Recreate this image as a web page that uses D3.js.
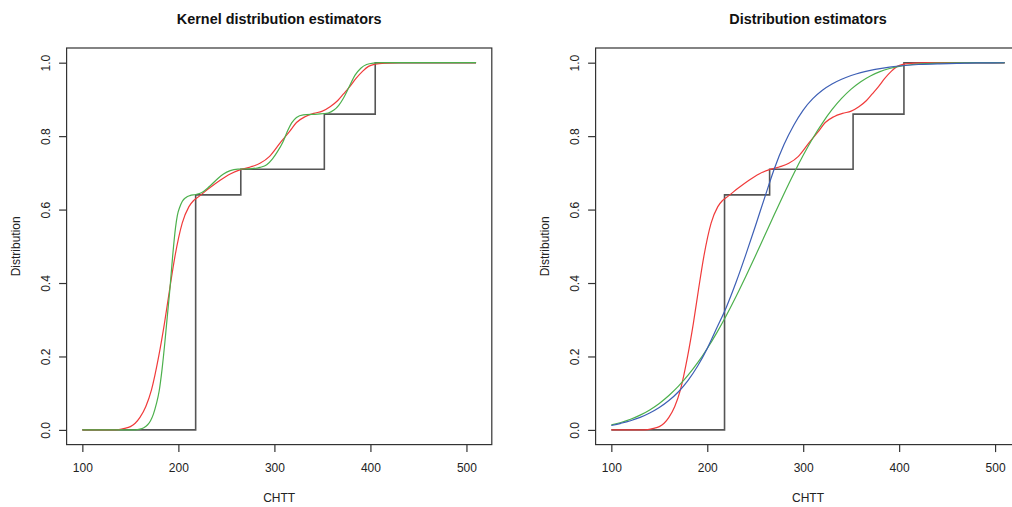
<!DOCTYPE html>
<html>
<head>
<meta charset="utf-8">
<script src="https://cdn.jsdelivr.net/npm/d3@7"></script>
<style>
  html, body { margin: 0; padding: 0; background: #fff; }
  svg { display: block; font-family: "Liberation Sans", Arial, Helvetica, sans-serif; }
</style>
</head>
<body>
<svg id="chart" width="1012" height="507"></svg>
<script>
// ---- data ----
const xTicks = [100, 200, 300, 400, 500];
const yTicks = [0, 0.2, 0.4, 0.6, 0.8, 1.0];
const xLimits = [100, 510];
const yLimits = [0, 1];

// empirical distribution function (step points)
const ecdfX = [100, 218, 265, 352, 405, 510];
const ecdfY = [0, 0.64, 0.71, 0.86, 1.0, 1.0];

// kernel estimator, larger bandwidth (red) - used in both panels
const redCurve = [[100,0],[130,0],[138,0.001],[144,0.004],[150,0.009],[155,0.018],[160,0.034],[166,0.063],[172,0.109],[179.5,0.2],[185.5,0.29],[190.8,0.381],[196.4,0.472],[204,0.563],[211,0.608],[216,0.625],[222.5,0.638],[232,0.658],[243.5,0.68],[254,0.697],[264,0.708],[275,0.716],[285,0.726],[295,0.745],[307,0.785],[315,0.81],[323,0.837],[332,0.853],[341,0.862],[350,0.868],[358,0.880],[366,0.897],[372,0.915],[378.5,0.935],[385,0.957],[392,0.977],[398,0.99],[405,0.996],[415,0.999],[430,1],[510,1]];

// kernel estimator, smaller bandwidth (green, left panel)
const greenKernel = [[100,0],[155,0],[160,0.002],[164,0.006],[168,0.014],[171,0.025],[174,0.043],[177,0.070],[180,0.106],[183,0.165],[186,0.24],[188.5,0.31],[191.1,0.381],[194,0.472],[197,0.55],[199,0.585],[201.5,0.607],[204,0.622],[208,0.633],[212,0.638],[218,0.641],[224,0.646],[232,0.662],[240,0.682],[247,0.697],[254,0.706],[262,0.71],[275,0.711],[285,0.715],[292,0.722],[298,0.738],[303,0.757],[309,0.785],[314,0.816],[318,0.836],[323,0.851],[330,0.858],[345,0.86],[356,0.863],[362,0.871],[367,0.884],[372,0.904],[378,0.935],[384,0.966],[390,0.985],[396,0.995],[403,0.999],[410,1],[510,1]];

// parametric fits (right panel)
const fitX = [100,110,120,130,140,150,160,170,180,190,200,210,220,230,240,250,260,270,280,290,300,310,320,330,340,350,360,370,380,390,400,420,440,460,480,510];
const greenFitY = [0.0136,0.0202,0.0289,0.0402,0.0545,0.0722,0.0936,0.119,0.1489,0.1831,0.2218,0.265,0.3122,0.3631,0.4169,0.4729,0.53,0.5871,0.6433,0.6971,0.7477,0.7942,0.8356,0.8719,0.9026,0.928,0.9483,0.964,0.9757,0.9841,0.9901,0.9965,0.999,0.9998,0.99995,1.0];
const blueFitY = [0.012,0.018,0.025,0.034,0.046,0.061,0.080,0.104,0.135,0.174,0.222,0.278,0.335,0.402,0.476,0.554,0.634,0.712,0.777,0.829,0.871,0.902,0.925,0.942,0.955,0.965,0.973,0.979,0.984,0.988,0.991,0.995,0.997,0.998,0.9993,0.9998];

const colRed = "#f03a3a", colGreen = "#4cb04c", colBlue = "#3d5fb5";

// ---- drawing ----
const svg = d3.select("#chart");
const fontColor = "#222";

function panel(opts) {
  const pad = (xLimits[1] - xLimits[0]) * 0.04;
  const ypad = (yLimits[1] - yLimits[0]) * 0.04;
  const x = d3.scaleLinear().domain([xLimits[0] - pad, xLimits[1] + pad]).range([opts.left, opts.right]);
  const y = d3.scaleLinear().domain([yLimits[0] - ypad, yLimits[1] + ypad]).range([444.6, 48]);
  const g = svg.append("g");

  // ECDF
  const ecdfPts = ecdfX.map((v, i) => [v, ecdfY[i]]);
  const line = d3.line().x(d => x(d[0])).y(d => y(d[1]));
  g.append("path").datum(ecdfPts)
    .attr("d", line.curve(d3.curveStepAfter))
    .attr("fill", "none").attr("stroke", "#555").attr("stroke-width", 1.6);

  const smooth = d3.line().x(d => x(d[0])).y(d => y(d[1])).curve(d3.curveMonotoneX);
  opts.curves.forEach(c => {
    g.append("path").datum(c.data).attr("d", smooth)
      .attr("fill", "none").attr("stroke", c.color).attr("stroke-width", 1.2);
  });

  // box
  g.append("rect")
    .attr("x", opts.left).attr("y", 48)
    .attr("width", opts.right - opts.left).attr("height", 444.6 - 48)
    .attr("fill", "none").attr("stroke", "#333").attr("stroke-width", 1.2);

  // x axis
  const xa = g.append("g").attr("transform", `translate(0,444.6)`)
    .call(d3.axisBottom(x).tickValues(xTicks).tickSize(7.5).tickPadding(0).tickFormat(d3.format("d")));
  xa.select(".domain").remove();
  xa.selectAll("line").attr("stroke", "#333").attr("stroke-width", 1.2);
  xa.selectAll("text").attr("y", 27.5).attr("dy", 0)
    .attr("font-size", 12).attr("fill", fontColor).attr("font-family", "Liberation Sans, Arial, sans-serif");

  // y axis
  const ya = g.append("g").attr("transform", `translate(${opts.left},0)`)
    .call(d3.axisLeft(y).tickValues(yTicks).tickSize(7.5).tickFormat(d3.format(".1f")));
  ya.select(".domain").remove();
  ya.selectAll("line").attr("stroke", "#333").attr("stroke-width", 1.2);
  ya.selectAll("text")
    .attr("transform", "rotate(-90)")
    .attr("x", 0).attr("y", -16.8).attr("dy", 0)
    .attr("text-anchor", "middle")
    .attr("font-size", 12).attr("fill", fontColor).attr("font-family", "Liberation Sans, Arial, sans-serif");

  const boxCenter = (opts.left + opts.right) / 2;
  // title
  svg.append("text").attr("x", boxCenter).attr("y", 24.2)
    .attr("text-anchor", "middle").attr("font-weight", "bold").attr("font-size", 14.4)
    .attr("fill", "#111").text(opts.title);
  // x label
  svg.append("text").attr("x", boxCenter).attr("y", 501.5)
    .attr("text-anchor", "middle").attr("font-size", 12).attr("fill", fontColor).text("CHTT");
  // y label
  svg.append("text")
    .attr("transform", `translate(${opts.left - 46.8},${(48 + 444.6) / 2}) rotate(-90)`)
    .attr("text-anchor", "middle").attr("font-size", 12).attr("fill", fontColor).text("Distribution");
}

const greenFit = fitX.map((v, i) => [v, greenFitY[i]]);
const blueFit = fitX.map((v, i) => [v, blueFitY[i]]);

panel({
  left: 66.6, right: 491.8,
  title: "Kernel distribution estimators",
  curves: [
    { data: redCurve, color: colRed },
    { data: greenKernel, color: colGreen }
  ]
});

panel({
  left: 595.6, right: 1020.4,
  title: "Distribution estimators",
  curves: [
    { data: redCurve, color: colRed },
    { data: greenFit, color: colGreen },
    { data: blueFit, color: colBlue }
  ]
});
</script>
</body>
</html>
